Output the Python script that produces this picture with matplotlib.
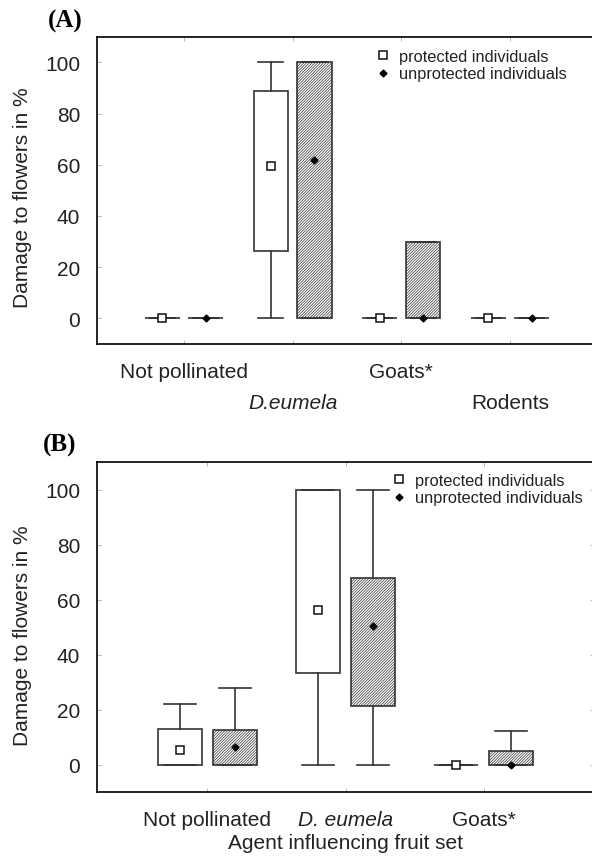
import matplotlib
matplotlib.use('Agg')
import matplotlib.pyplot as plt
from matplotlib.lines import Line2D

plt.rcParams['font.family'] = ['Liberation Sans', 'DejaVu Sans']
plt.rcParams['hatch.linewidth'] = 0.5

# panel A values
a_groups = ['Not pollinated', 'D.eumela', 'Goats*', 'Rodents']
a_prot_lo = [0, 0, 0, 0]
a_prot_q1 = [0, 26.5, 0, 0]
a_prot_q3 = [0, 88.7, 0, 0]
a_prot_hi = [0, 100, 0, 0]
a_prot_mean = [0, 59.7, 0, 0]
a_unp_lo = [0, 0, 0, 0]
a_unp_q1 = [0, 0, 0, 0]
a_unp_q3 = [0, 100, 30, 0]
a_unp_hi = [0, 100, 30, 0]
a_unp_mean = [0, 61.9, 0, 0]

# panel B values
b_groups = ['Not pollinated', 'D. eumela', 'Goats*']
b_prot_lo = [0, 0, 0]
b_prot_q1 = [0, 33.1, 0]
b_prot_q3 = [13, 100, 0]
b_prot_hi = [21.9, 100, 0]
b_prot_mean = [5.4, 56.2, 0]
b_unp_lo = [0, 0, 0]
b_unp_q1 = [0, 21.2, 0]
b_unp_q3 = [12.6, 67.7, 4.9]
b_unp_hi = [27.9, 100, 12.3]
b_unp_mean = [6.3, 50.2, 0]

yticks = [0, 20, 40, 60, 80, 100]
legend_labels = ['protected individuals', 'unprotected individuals']
LC = '#333333'
FS = 15


def make_stats(lo, q1, q3, hi, mean):
    out = []
    for i in range(len(lo)):
        out.append(dict(whislo=lo[i], q1=q1[i], med=mean[i], mean=mean[i],
                        q3=q3[i], whishi=hi[i], fliers=[]))
    return out


def draw(ax, prot, unp, hatch_style):
    n = len(prot)
    pos = list(range(n))
    common = dict(widths=0.32, capwidths=0.23, patch_artist=True, showmeans=True,
                  showfliers=False,
                  whiskerprops=dict(color=LC, lw=1.2),
                  capprops=dict(color=LC, lw=1.2),
                  medianprops=dict(linestyle='none'))
    ax.bxp(prot, positions=[p - 0.2 for p in pos], manage_ticks=False,
           boxprops=dict(facecolor='white', edgecolor=LC, lw=1.2),
           meanprops=dict(marker='s', markerfacecolor='white', markeredgecolor='#111',
                          markersize=5.5, markeredgewidth=1.1),
           **common)
    ax.bxp(unp, positions=[p + 0.2 for p in pos], manage_ticks=False,
           boxprops=dict(facecolor='white', edgecolor=LC, lw=1.2, hatch=hatch_style),
           meanprops=dict(marker='D', markerfacecolor='black', markeredgecolor='black',
                          markersize=3.5),
           **common)
    ax.set_ylim(-10, 110)
    ax.set_yticks(yticks)
    ax.set_xticks(pos)
    ax.tick_params(direction='in', top=True, right=True, length=3, width=0.6,
                   color='#aaaaaa', labelsize=FS, labelcolor='#222222')
    ax.tick_params(axis='y', pad=12)
    for s in ax.spines.values():
        s.set_linewidth(1.2)
        s.set_color('black')
    ax.set_ylabel('Damage to flowers in %', fontsize=FS, color='#222222')


fig = plt.figure(figsize=(5.92, 8.62), dpi=100)
W, H = 592.0, 862.0

axA = fig.add_axes([97 / W, 1 - 345 / H, 500 / W, (345 - 37.7) / H])
draw(axA, make_stats(a_prot_lo, a_prot_q1, a_prot_q3, a_prot_hi, a_prot_mean),
     make_stats(a_unp_lo, a_unp_q1, a_unp_q3, a_unp_hi, a_unp_mean), '////////////')
axA.set_xlim(-0.8, len(a_groups) - 0.2)
axA.set_xticklabels(a_groups)
for i, t in enumerate(axA.xaxis.get_major_ticks()):
    t.set_pad(13 if i % 2 == 0 else 35)
axA.get_xticklabels()[1].set_fontstyle('italic')
axA.yaxis.set_label_coords(-0.13, 0.478)

axB = fig.add_axes([97 / W, 1 - 793 / H, 497 / W, (793 - 463) / H])
draw(axB, make_stats(b_prot_lo, b_prot_q1, b_prot_q3, b_prot_hi, b_prot_mean),
     make_stats(b_unp_lo, b_unp_q1, b_unp_q3, b_unp_hi, b_unp_mean), '////////////')
axB.set_xlim(-0.8, len(b_groups) - 0.2)
axB.set_xticklabels(b_groups)
axB.tick_params(axis='x', pad=13)
axB.get_xticklabels()[1].set_fontstyle('italic')
axB.set_xlabel('Agent influencing fruit set', fontsize=FS, color='#222222', labelpad=3)
axB.yaxis.set_label_coords(-0.131, 0.476)

handles = [Line2D([], [], ls='none', marker='s', markerfacecolor='white',
                  markeredgecolor='#111', markersize=5.5, markeredgewidth=1.1),
           Line2D([], [], ls='none', marker='D', markerfacecolor='black',
                  markeredgecolor='black', markersize=3.5)]
for ax, x0, y0 in [(axA, 376, 50), (axB, 392, 474)]:
    ax.legend(handles, legend_labels, loc='upper left',
              bbox_to_anchor=(x0 / W, 1 - y0 / H), bbox_transform=fig.transFigure,
              frameon=False, fontsize=11.8, handlelength=0.8, handletextpad=0.6,
              borderpad=0, borderaxespad=0, labelspacing=0.15, labelcolor='#222222')

fig.text(65 / W, 1 - 21 / H, '(A)', family=['Liberation Serif', 'DejaVu Serif'],
         fontweight='bold', fontsize=18, ha='center', va='center')
fig.text(60 / W, 1 - 445 / H, '(B)', family=['Liberation Serif', 'DejaVu Serif'],
         fontweight='bold', fontsize=18, ha='center', va='center')

fig.savefig('out.png', dpi=100, facecolor='white')
